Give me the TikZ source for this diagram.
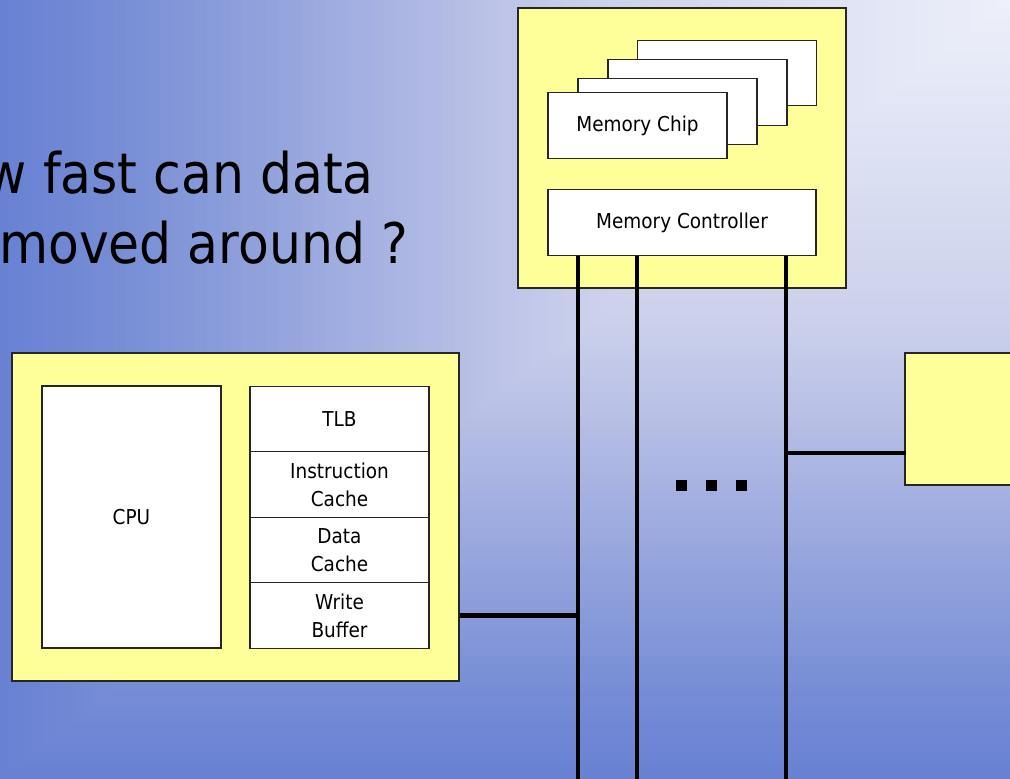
\documentclass[tikz,border=0pt]{standalone}
\usepackage{fontspec}
\setmainfont{DejaVu Sans}[FakeStretch=0.9]
\definecolor{boxyellow}{RGB}{255,255,153}
\definecolor{bgA}{RGB}{104,129,211}
\definecolor{bgB}{RGB}{117,140,213}
\definecolor{bgC}{RGB}{182,190,229}
\definecolor{bgD}{RGB}{205,210,236}
\definecolor{bgE}{RGB}{238,240,250}
\begin{document}
\begin{tikzpicture}[x=1pt, y=-1pt,
    board/.style={draw=black!85, line width=1.2pt, fill=boxyellow, inner sep=0pt},
    unit/.style={draw=black!85, line width=1.2pt, fill=white, inner sep=0pt, minimum width=179pt, minimum height=65.5pt, align=center, font=\fontsize{20.5}{28}\selectfont},
    bus/.style={line width=4.6pt},
    dot/.style={fill=black, inner sep=0pt, minimum size=11pt},
    title/.style={inner sep=0pt, font=\fontsize{56}{66}\selectfont}]
      \useasboundingbox (0,0) rectangle (1010,779);
      \clip (0,0) rectangle (1010,779);

      % Background
      \foreach \ta/\tb/\ca/\cb in {1/0.9/bgA/bgB, 0.9/0.55/bgB/bgC, 0.55/0.4/bgC/bgD, 0.4/0/bgD/bgE}{
        \foreach \k in {0,...,29}{
          \pgfmathsetmacro\t{\ta+(\tb-\ta)*\k/30}
          \pgfmathtruncatemacro\mix{100*\k/30}
          \fill[\cb!\mix!\ca] ({1010-\t*1010},0) rectangle (1010,{\t*779});
        }
      }

      % Title
      \node[title, anchor=base east] (title1) at (374,193) {w fast can data};
      \node[title, anchor=base west] (title2) at (-1,263) {moved around ?};

      % Memory
      \node[board, minimum width=328pt, minimum height=280pt] (memboard) at (682,148) {};
      \node[unit] (chip4) at (727,73) {};
      \node[unit] (chip3) at (697.5,92.5) {};
      \node[unit] (chip2) at (667.5,111.5) {};
      \node[unit] (chip1) at (637.5,125.5) {Memory Chip};
      \node[unit, minimum width=268pt] (ctrl) at (682,222.5) {Memory Controller};

      % Processor
      \node[board, minimum width=447pt, minimum height=328pt] (cpuboard) at (235.5,517) {};
      \node[unit, minimum height=262pt] (cpu) at (131.5,517) {CPU};
      \node[unit] (tlb) at (339.5,419) {TLB};
      \node[unit] (icache) at (339.5,484.5) {Instruction\\Cache};
      \node[unit] (dcache) at (339.5,550) {Data\\Cache};
      \node[unit] (wbuf) at (339.5,615.5) {Write\\Buffer};

      % Device
      \node[board, minimum width=200pt, minimum height=132pt] (device) at (1005,419) {};

      % Bus
      \coordinate (busa) at (578,779);
      \coordinate (busb) at (637,779);
      \coordinate (busc) at (786,779);
      \coordinate (devlink) at (906,453);
      \draw[bus] (ctrl.south -| busa) -- (busa);
      \draw[bus] (ctrl.south -| busb) -- (busb);
      \draw[bus] (ctrl.south -| busc) -- (busc);
      \draw[bus] (cpuboard.east |- wbuf) -- (wbuf -| busa);
      \draw[bus] (devlink) -- (devlink -| busc);

      % Dots
      \node[dot] (dot1) at (681,485) {};
      \node[dot] (dot2) at (711,485) {};
      \node[dot] (dot3) at (741,485) {};
    \end{tikzpicture}
\end{document}
